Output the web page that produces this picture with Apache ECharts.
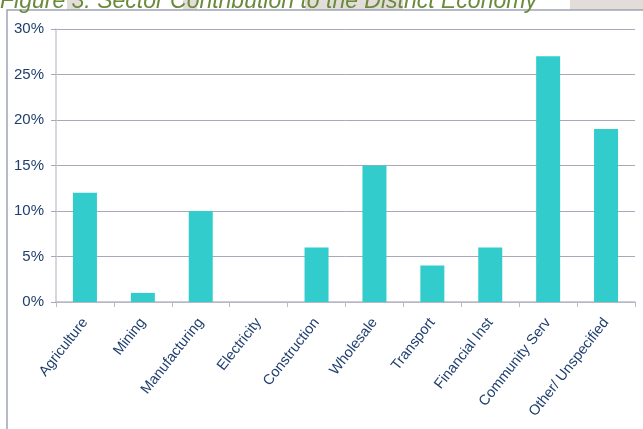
<!DOCTYPE html>
<html>
<head>
<meta charset="utf-8">
<script src="https://cdn.jsdelivr.net/npm/echarts@6/dist/echarts.min.js"></script>
<style>
html,body{margin:0;padding:0;background:#fff;}
#c{width:643px;height:429px;}
</style>
</head>
<body>
<div id="c"></div>
<script>
const categories = ['Agriculture','Mining','Manufacturing','Electricity','Construction','Wholesale','Transport','Financial Inst','Community Serv','Other/ Unspecified'];
const shares = [12, 1, 10, 0, 6, 15, 4, 6, 27, 19];
const yTicks = [0, 5, 10, 15, 20, 25, 30];
const titleText = 'Figure 3: Sector Contribution to the District Economy';

const chart = echarts.init(document.getElementById('c'), null, {renderer:'canvas'});
chart.setOption({
  animation:false,
  backgroundColor:'#ffffff',
  grid:{left:56, right:8, top:29, bottom:127, containLabel:false},
  graphic:[
    {type:'rect', shape:{x:67,y:0,width:13,height:10}, style:{fill:'#e2ddd8'}, z:0},
    {type:'rect', shape:{x:183,y:0,width:14,height:10}, style:{fill:'#e2ddd8'}, z:0},
    {type:'rect', shape:{x:305,y:0,width:98,height:10}, style:{fill:'#e2ddd8'}, z:0},
    {type:'rect', shape:{x:570,y:0,width:73,height:10}, style:{fill:'#e2ddd8'}, z:0},
    {type:'text', x:0, y:13, z:5, style:{text:titleText, fill:'#6a8a3c', font:'italic 23px "Liberation Sans", Arial, sans-serif', verticalAlign:'bottom', lineHeight:23}},
    {type:'rect', shape:{x:7,y:10,width:640,height:425}, style:{fill:'none', stroke:'#9ea3b4', lineWidth:1.5}, z:3}
  ],
  xAxis:{
    type:'category',
    data:categories,
    axisLine:{show:true, lineStyle:{color:'#bcbcc8', width:1.5}},
    axisTick:{show:true, alignWithLabel:false, length:5, lineStyle:{color:'#bcbcc8'}},
    axisLabel:{rotate:52, interval:0, margin:18, color:'#1f3f6e', fontSize:14.5, fontFamily:'"Liberation Sans", Arial, sans-serif'}
  },
  yAxis:{
    type:'value', min:0, max:30, interval:5,
    axisLine:{show:true, lineStyle:{color:'#c8c8d0', width:1.5}},
    axisTick:{show:true, length:5, lineStyle:{color:'#a8a8b8'}},
    splitLine:{show:true, lineStyle:{color:'#a8a8b8', width:1}},
    axisLabel:{margin:12, color:'#1f3f6e', fontSize:15, fontFamily:'"Liberation Sans", Arial, sans-serif', formatter:function(v){return yTicks.indexOf(v)>=0 ? v+'%' : '';}}
  },
  series:[{
    type:'bar',
    data:shares,
    barWidth:24,
    itemStyle:{color:'#33cccc'}
  }]
});
</script>
</body>
</html>
